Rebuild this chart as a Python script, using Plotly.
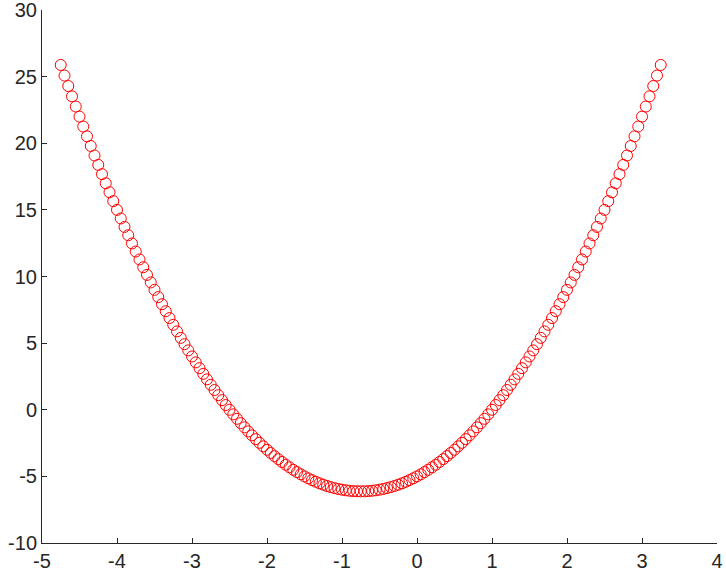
import plotly.graph_objects as go

x_values = [
    -4.75, -4.70, -4.65, -4.60, -4.55, -4.50, -4.45, -4.40, -4.35, -4.30,
    -4.25, -4.20, -4.15, -4.10, -4.05, -4.00, -3.95, -3.90, -3.85, -3.80,
    -3.75, -3.70, -3.65, -3.60, -3.55, -3.50, -3.45, -3.40, -3.35, -3.30,
    -3.25, -3.20, -3.15, -3.10, -3.05, -3.00, -2.95, -2.90, -2.85, -2.80,
    -2.75, -2.70, -2.65, -2.60, -2.55, -2.50, -2.45, -2.40, -2.35, -2.30,
    -2.25, -2.20, -2.15, -2.10, -2.05, -2.00, -1.95, -1.90, -1.85, -1.80,
    -1.75, -1.70, -1.65, -1.60, -1.55, -1.50, -1.45, -1.40, -1.35, -1.30,
    -1.25, -1.20, -1.15, -1.10, -1.05, -1.00, -0.95, -0.90, -0.85, -0.80,
    -0.75,
    -0.70, -0.65, -0.60, -0.55, -0.50, -0.45, -0.40, -0.35, -0.30, -0.25,
    -0.20, -0.15, -0.10, -0.05, 0.00, 0.05, 0.10, 0.15, 0.20, 0.25,
    0.30, 0.35, 0.40, 0.45, 0.50, 0.55, 0.60, 0.65, 0.70, 0.75,
    0.80, 0.85, 0.90, 0.95, 1.00, 1.05, 1.10, 1.15, 1.20, 1.25,
    1.30, 1.35, 1.40, 1.45, 1.50, 1.55, 1.60, 1.65, 1.70, 1.75,
    1.80, 1.85, 1.90, 1.95, 2.00, 2.05, 2.10, 2.15, 2.20, 2.25,
    2.30, 2.35, 2.40, 2.45, 2.50, 2.55, 2.60, 2.65, 2.70, 2.75,
    2.80, 2.85, 2.90, 2.95, 3.00, 3.05, 3.10, 3.15, 3.20, 3.25,
]

y_values = [
    25.875, 25.08, 24.295, 23.52, 22.755, 22.0, 21.255, 20.52, 19.795, 19.08,
    18.375, 17.68, 16.995, 16.32, 15.655, 15.0, 14.355, 13.72, 13.095, 12.48,
    11.875, 11.28, 10.695, 10.12, 9.555, 9.0, 8.455, 7.92, 7.395, 6.88,
    6.375, 5.88, 5.395, 4.92, 4.455, 4.0, 3.555, 3.12, 2.695, 2.28,
    1.875, 1.48, 1.095, 0.72, 0.355, 0.0, -0.345, -0.68, -1.005, -1.32,
    -1.625, -1.92, -2.205, -2.48, -2.745, -3.0, -3.245, -3.48, -3.705, -3.92,
    -4.125, -4.32, -4.505, -4.68, -4.845, -5.0, -5.145, -5.28, -5.405, -5.52,
    -5.625, -5.72, -5.805, -5.88, -5.945, -6.0, -6.045, -6.08, -6.105, -6.12,
    -6.125,
    -6.12, -6.105, -6.08, -6.045, -6.0, -5.945, -5.88, -5.805, -5.72, -5.625,
    -5.52, -5.405, -5.28, -5.145, -5.0, -4.845, -4.68, -4.505, -4.32, -4.125,
    -3.92, -3.705, -3.48, -3.245, -3.0, -2.745, -2.48, -2.205, -1.92, -1.625,
    -1.32, -1.005, -0.68, -0.345, 0.0, 0.355, 0.72, 1.095, 1.48, 1.875,
    2.28, 2.695, 3.12, 3.555, 4.0, 4.455, 4.92, 5.395, 5.88, 6.375,
    6.88, 7.395, 7.92, 8.455, 9.0, 9.555, 10.12, 10.695, 11.28, 11.875,
    12.48, 13.095, 13.72, 14.355, 15.0, 15.655, 16.32, 16.995, 17.68, 18.375,
    19.08, 19.795, 20.52, 21.255, 22.0, 22.755, 23.52, 24.295, 25.08, 25.875,
]

x_ticks = [-5, -4, -3, -2, -1, 0, 1, 2, 3, 4]
y_ticks = [-10, -5, 0, 5, 10, 15, 20, 25, 30]

axis_color = "#262626"

fig = go.Figure(
    go.Scatter(
        x=x_values,
        y=y_values,
        mode="markers",
        marker=dict(
            symbol="circle-open",
            size=11,
            color="#ff0000",
            line=dict(width=1, color="#ff0000"),
        ),
        hoverinfo="x+y",
    )
)

common_axis = dict(
    showgrid=False,
    zeroline=False,
    showline=True,
    linecolor=axis_color,
    linewidth=1,
    ticks="inside",
    ticklen=5,
    tickwidth=1,
    tickcolor=axis_color,
    tickfont=dict(family="Liberation Sans, Arial, sans-serif", size=20, color=axis_color),
    mirror=False,
    automargin=False,
    ticklabeloverflow="allow",
)

fig.update_xaxes(
    range=[-5, 4],
    tickvals=x_ticks,
    ticktext=[str(v) for v in x_ticks],
    **common_axis,
)
fig.update_yaxes(
    range=[-10, 30],
    tickvals=y_ticks,
    ticktext=[str(v) for v in y_ticks],
    **common_axis,
)

fig.update_layout(
    width=726,
    height=577,
    margin=dict(l=42, r=9, t=10, b=34, autoexpand=False),
    plot_bgcolor="white",
    paper_bgcolor="white",
    showlegend=False,
)

fig.write_html(
    "out.html",
    config={"displayModeBar": False},
    post_script="document.body.style.margin='0';document.body.style.overflow='hidden';",
)
